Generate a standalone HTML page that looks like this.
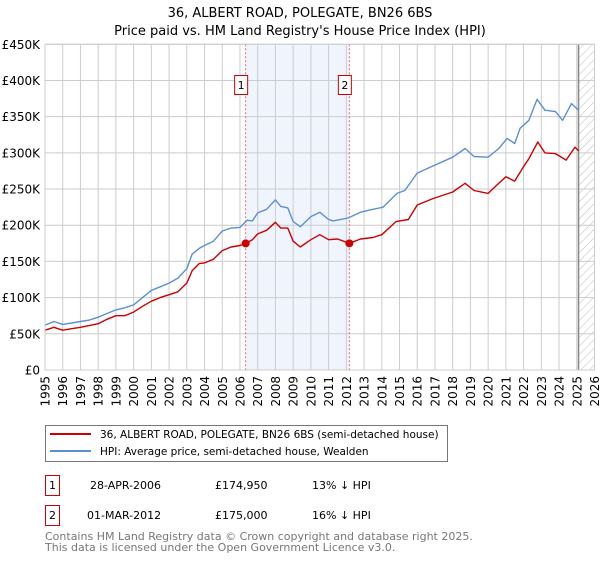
<!DOCTYPE html>
<html><head><meta charset="utf-8"><style>
body{margin:0;background:#fff;font-family:"DejaVu Sans","Liberation Sans",sans-serif;}
svg text{font-family:"DejaVu Sans","Liberation Sans",sans-serif;}
</style></head><body>
<svg id="chart" width="600" height="560" xmlns="http://www.w3.org/2000/svg">
<defs><pattern id="hatch" patternUnits="userSpaceOnUse" width="6" height="6" patternTransform="rotate(45)"><line x1="0" y1="0" x2="0" y2="6" stroke="#bbb" stroke-width="1"/></pattern></defs>
<text x="300" y="17" text-anchor="middle" font-size="13">36, ALBERT ROAD, POLEGATE, BN26 6BS</text>
<text x="300" y="35" text-anchor="middle" font-size="13">Price paid vs. HM Land Registry's House Price Index (HPI)</text>
<g id="plot"></g>
<g>
<rect x="45.5" y="425.5" width="402" height="36" fill="#fff" stroke="#777"/>
<line x1="50" y1="434" x2="91" y2="434" stroke="#cc0000" stroke-width="2"/>
<text x="100" y="438" font-size="10.5">36, ALBERT ROAD, POLEGATE, BN26 6BS (semi-detached house)</text>
<line x1="50" y1="451" x2="91" y2="451" stroke="#5b8fd4" stroke-width="2"/>
<text x="100" y="455" font-size="10.5">HPI: Average price, semi-detached house, Wealden</text>
</g>
<g font-size="11">
<rect x="45.5" y="475.5" width="14" height="20" fill="#fff" stroke="#cc0000"/>
<text x="52.5" y="489" text-anchor="middle">1</text>
<text x="90" y="489">28-APR-2006</text><text x="215" y="489">£174,950</text><text x="312" y="489">13% ↓ HPI</text>
<rect x="45.5" y="505.5" width="14" height="20" fill="#fff" stroke="#cc0000"/>
<text x="52.5" y="519" text-anchor="middle">2</text>
<text x="87" y="519">01-MAR-2012</text><text x="215" y="519">£175,000</text><text x="312" y="519">16% ↓ HPI</text>
</g>
<text x="45" y="540" font-size="11" fill="#777">Contains HM Land Registry data © Crown copyright and database right 2025.</text>
<text x="45" y="551" font-size="11" fill="#777">This data is licensed under the Open Government Licence v3.0.</text>
</svg>
<script>
const hpiYears=[1995,1995.5,1996,1996.5,1997,1997.5,1998,1998.5,1999,1999.5,2000,2000.5,2001,2001.5,2002,2002.5,2003,2003.3,2003.7,2004,2004.5,2005,2005.5,2006,2006.4,2006.7,2007,2007.5,2008,2008.3,2008.7,2009,2009.4,2010,2010.5,2011,2011.25,2012.1,2012.8,2013.5,2014.07,2014.86,2015.3,2016,2016.9,2018,2018.7,2019.2,2020,2020.6,2021.07,2021.5,2021.8,2022.3,2022.76,2023.2,2023.8,2024.2,2024.7,2025.1];
const hpiValues=[62,67,63,65,67,69,73,78,83,86,90,100,110,115,120,127,140,160,168,172,178,192,196,197,207,206,217,222,235,226,224,205,198,212,218,208,206,210,218,222,225,244,248,272,282,294,306,295,294,306,320,313,334,345,374,359,357,345,368,359];
const priceYears=[1995,1995.5,1996,1996.5,1997,1998,1998.5,1999,1999.5,2000,2000.5,2001,2001.5,2002,2002.5,2003,2003.3,2003.7,2004,2004.5,2005,2005.5,2006,2006.32,2006.7,2007,2007.5,2008,2008.3,2008.7,2009,2009.4,2010,2010.5,2011,2011.5,2012.17,2012.8,2013.5,2014,2014.8,2015.5,2016,2016.9,2018,2018.7,2019.2,2020,2020.6,2021,2021.5,2022,2022.3,2022.8,2023.2,2023.8,2024.4,2024.9,2025.1];
const priceValues=[55,59,55,57,59,64,70,75,75,80,88,95,100,104,108,120,137,147,148,153,165,170,172,175,180,188,193,204,196,196,178,170,180,187,180,181,175,181,183,187,205,208,228,237,246,258,248,244,258,267,261,281,292,315,300,299,290,308,303];
const saleYears=[2006.32,2012.17];
const saleValues=[174.95,175];
const saleLabels=["1","2"];
const yTicks=[0,50,100,150,200,250,300,350,400,450];
const yTickLabels=["£0","£50K","£100K","£150K","£200K","£250K","£300K","£350K","£400K","£450K"];
const xTicks=[1995,1996,1997,1998,1999,2000,2001,2002,2003,2004,2005,2006,2007,2008,2009,2010,2011,2012,2013,2014,2015,2016,2017,2018,2019,2020,2021,2022,2023,2024,2025,2026];

const X0=45,X1=594.5,Y0=370,Y1=44.3;
const sx=y=>X0+(y-1995)/(2026-1995)*(X1-X0);
const sy=v=>Y0-v/450*(Y0-Y1);
const NS="http://www.w3.org/2000/svg";
const g=document.getElementById('plot');
function mk(t,a){const e=document.createElementNS(NS,t);for(const k in a)e.setAttribute(k,a[k]);g.appendChild(e);return e;}
let r=mk('rect',{x:sx(saleYears[0]),y:Y1,width:sx(saleYears[1])-sx(saleYears[0]),height:Y0-Y1,fill:'#f0f4fc'});


let h=mk('rect',{x:sx(2025.1),y:Y1,width:X1-sx(2025.1),height:Y0-Y1,fill:'url(#hatch)'});


yTicks.forEach((v,i)=>{
 let l=mk('line',{x1:X0,x2:X1,y1:sy(v),y2:sy(v),stroke:'#ccc'});
 
 
 let t=mk('text',{x:40,y:sy(v)+4.5,'text-anchor':'end','font-size':12});
 
 
 t.textContent=yTickLabels[i];
});
xTicks.forEach(yr=>{
 let l=mk('line',{x1:sx(yr),x2:sx(yr),y1:Y1,y2:Y0,stroke:'#ccc'});
 
 
 let t=mk('text',{x:0,y:0,'text-anchor':'end','font-size':12,transform:`translate(${sx(yr)+4.5},376) rotate(-90)`});
 
 
 t.textContent=yr;
});
let vl=mk('line',{x1:sx(2025.1),x2:sx(2025.1),y1:Y1,y2:Y0,stroke:'#888','stroke-width':1.5});


saleYears.forEach((yr,i)=>{
 let l=mk('line',{x1:sx(yr),x2:sx(yr),y1:Y1,y2:Y0,stroke:'#e66','stroke-dasharray':'2,2'});
 
 
});
function path(xs,vs,col,name){
 let d=xs.map((x,i)=>(i?'L':'M')+sx(x).toFixed(1)+','+sy(vs[i]).toFixed(1)).join('');
 let p=mk('path',{d:d,fill:'none',stroke:col,'stroke-width':1.4,'stroke-linejoin':'round'});
 
 
}
path(hpiYears,hpiValues,'#5b8fd4','hpi-line');
path(priceYears,priceValues,'#cc0000','price-paid-line');
saleYears.forEach((yr,i)=>{
 let c=mk('circle',{cx:sx(yr),cy:sy(saleValues[i]),r:4,fill:'#cc0000'});
 
 
 let b=mk('rect',{x:sx(yr)-11,y:75.5,width:13,height:19,fill:'#fff',stroke:'#cc0000'});
 
 
 let t=mk('text',{x:sx(yr)-4.5,y:89,'text-anchor':'middle','font-size':11});
 
 
 t.textContent=saleLabels[i];
});
let f=mk('rect',{x:X0,y:Y1,width:X1-X0,height:Y0-Y1,fill:'none',stroke:'#ccc'});


</script>
</body></html>
